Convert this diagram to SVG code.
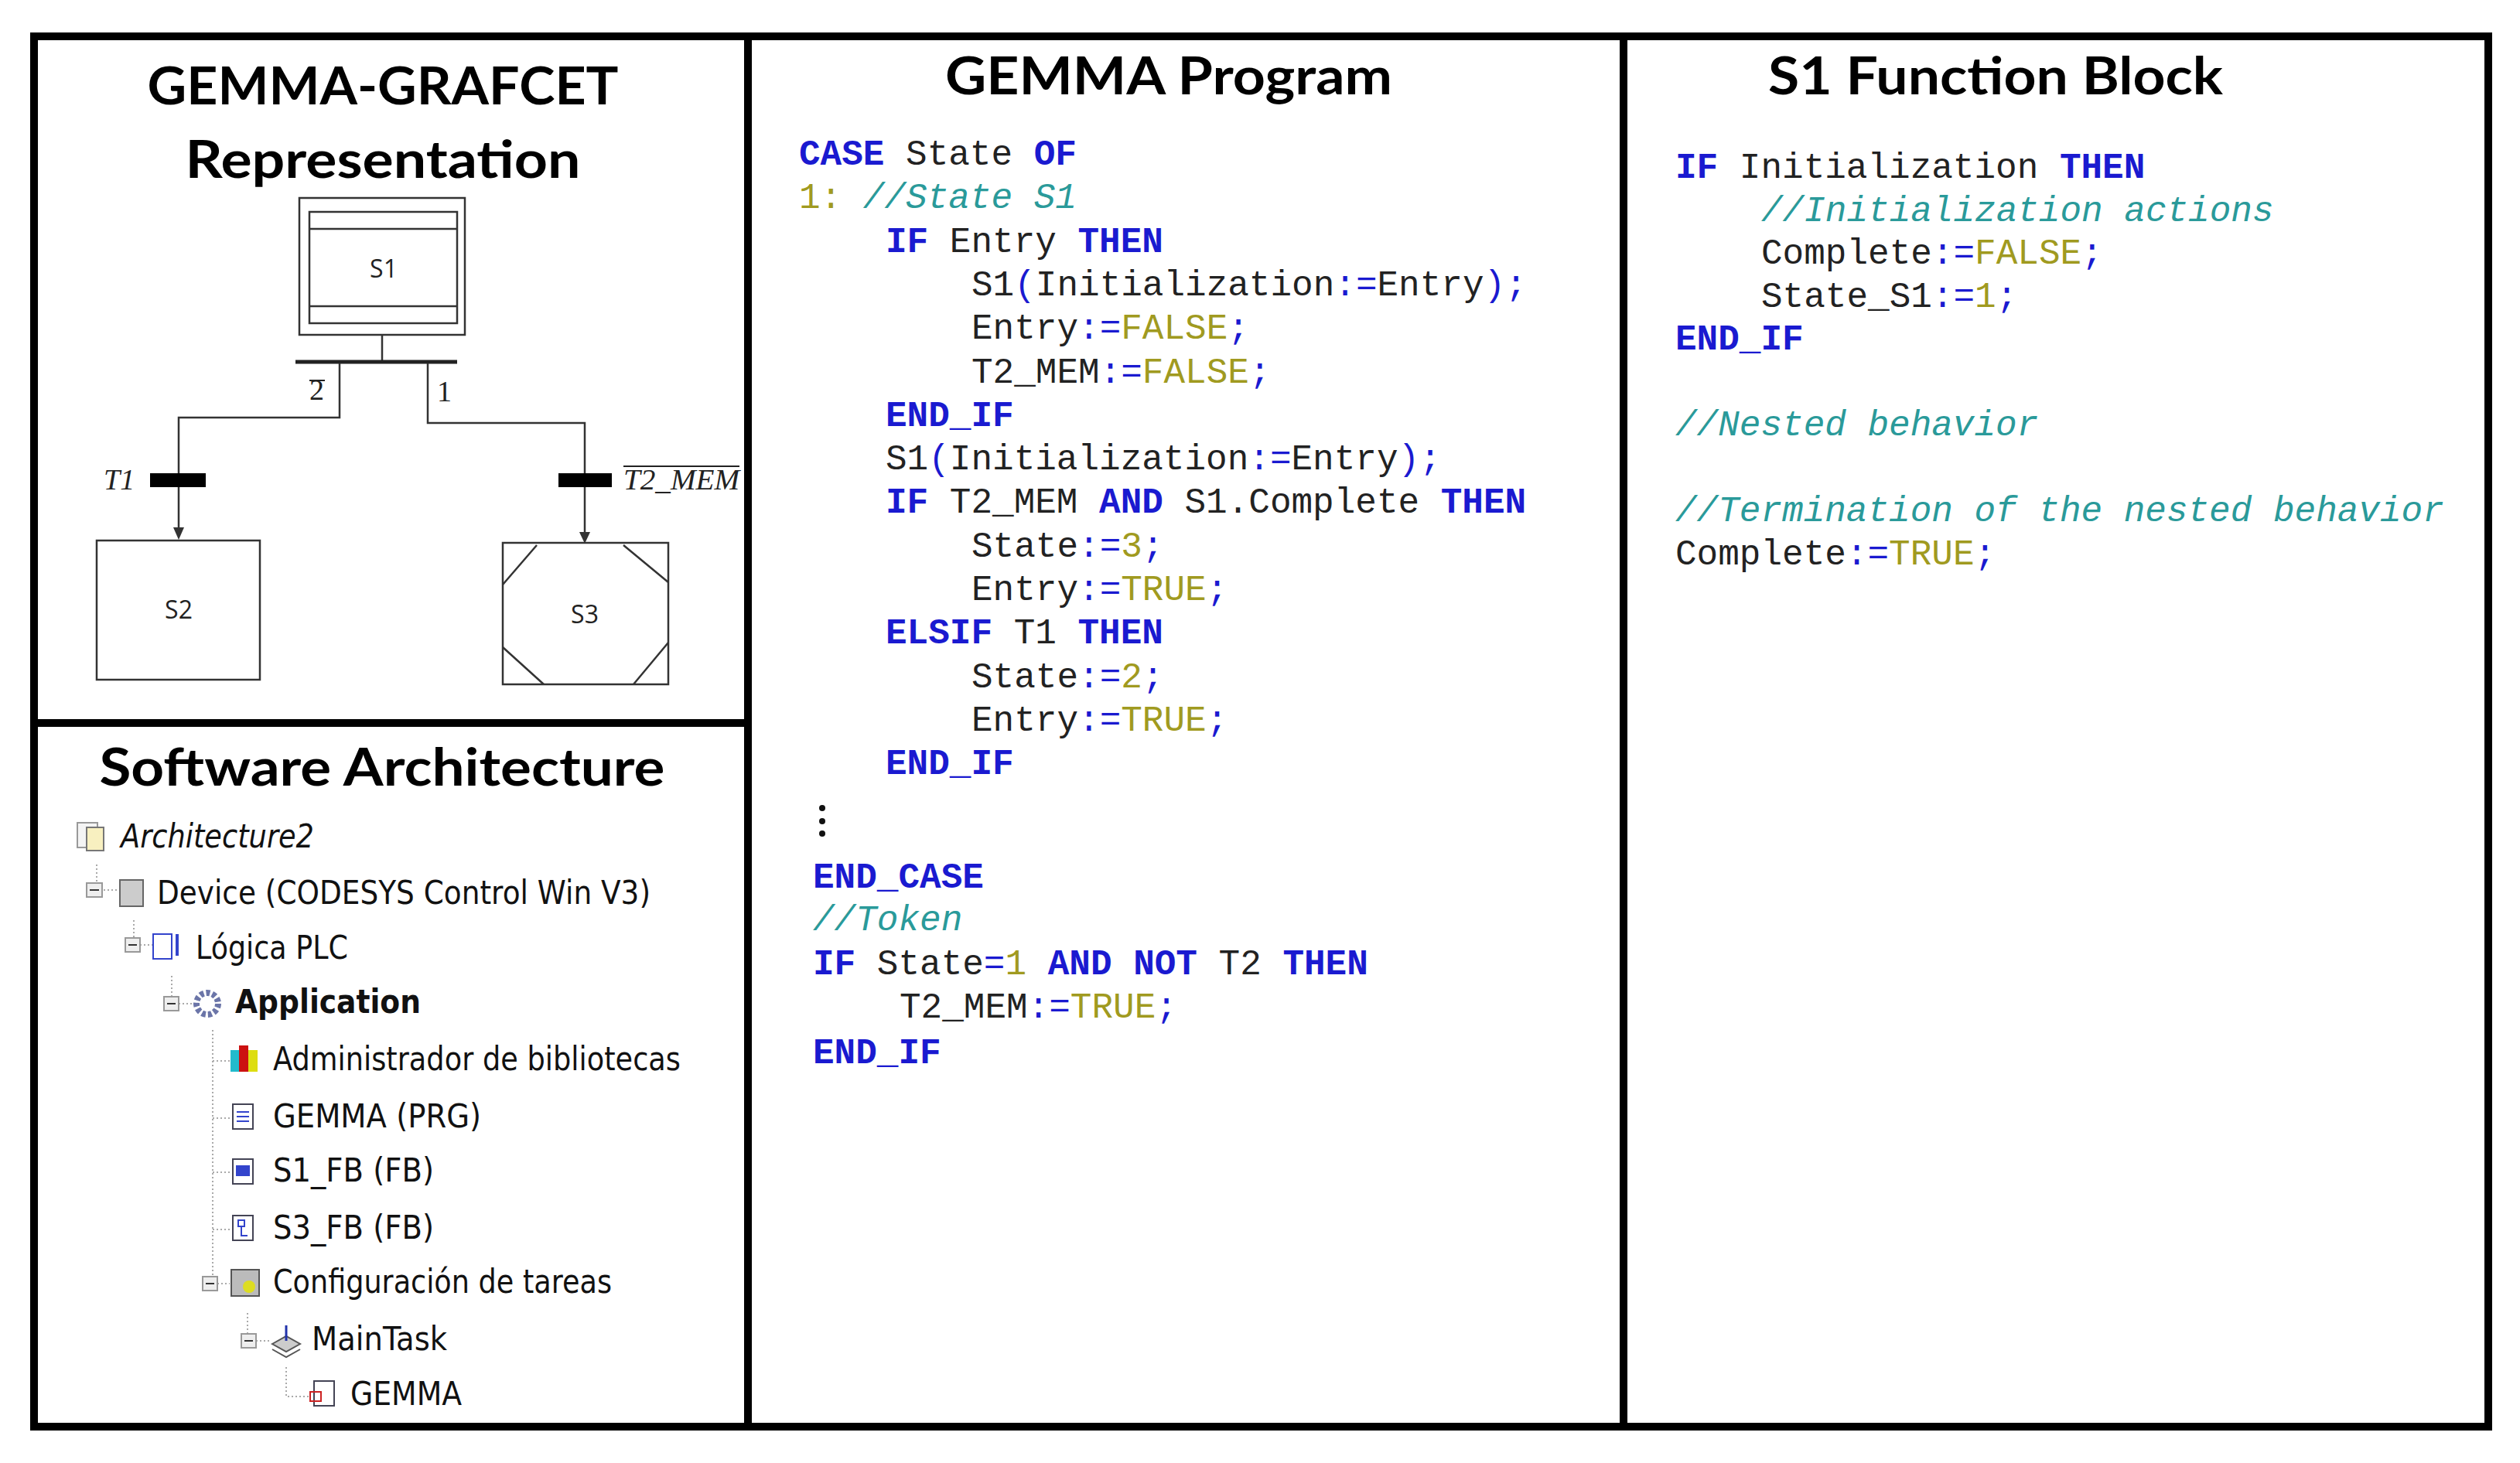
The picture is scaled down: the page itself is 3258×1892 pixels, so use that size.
<svg xmlns="http://www.w3.org/2000/svg" width="3258" height="1892" viewBox="0 0 3258 1892">
<style>
.frame{fill:none;stroke:#000;stroke-width:10}
.title{font-family:Lato,"Open Sans",sans-serif;font-weight:bold;font-size:66px;fill:#000;text-anchor:middle}
.g{fill:none;stroke:#333;stroke-width:2.5}
.gl{font-family:"Open Sans","Liberation Sans",sans-serif;font-size:32px;fill:#222;text-anchor:middle}
.math{font-family:"Liberation Serif",serif;font-size:38px;fill:#222}
.code{font-family:"Liberation Mono",monospace;font-size:46px;fill:#222}
.k{fill:#1a1ad0;font-weight:bold}
.o{fill:#1a1ad0}
.l{fill:#a09a20}
.c{fill:#2a9a9a;font-style:italic}
.tree{font-family:"DejaVu Sans","Liberation Sans",sans-serif;font-size:43px;fill:#111}
.dot{fill:none;stroke:#aaa;stroke-width:2;stroke-dasharray:2 3}
.minus{fill:#eee;stroke:#999;stroke-width:2}
.ah{fill:#333}
</style>
<rect width="3258" height="1892" fill="#fff"/>

<g id="frames">
<rect class="frame" x="44" y="47" width="3173" height="1798"/>
<line class="frame" x1="967" y1="47" x2="967" y2="1845"/>
<line class="frame" x1="2099" y1="47" x2="2099" y2="1845"/>
<line class="frame" x1="44" y1="935" x2="967" y2="935"/>
</g>

<g id="titles">
<text class="title" x="495" y="135" textLength="609" lengthAdjust="spacingAndGlyphs">GEMMA-GRAFCET</text>
<text class="title" x="495" y="230" textLength="511" lengthAdjust="spacingAndGlyphs">Representation</text>
<text class="title" x="1511" y="122" textLength="578" lengthAdjust="spacingAndGlyphs">GEMMA Program</text>
<text class="title" x="2580" y="122" textLength="588" lengthAdjust="spacingAndGlyphs">S1 Function Block</text>
<text class="title" x="494" y="1016" textLength="731" lengthAdjust="spacingAndGlyphs">Software Architecture</text>
</g>

<g id="node-S1">
<rect class="g" x="387" y="256" width="214" height="177"/>
<rect class="g" x="400" y="274" width="191" height="144"/>
<line class="g" x1="400" y1="296" x2="591" y2="296"/>
<line class="g" x1="400" y1="396" x2="591" y2="396"/>
<text class="gl" x="496" y="359">S1</text>
</g>
<g id="node-S2">
<rect class="g" x="125" y="699" width="211" height="180"/>
<text class="gl" x="231" y="800">S2</text>
</g>
<g id="node-S3">
<rect class="g" x="650" y="702" width="214" height="183"/>
<path class="g" d="M650,756 L694,705 M806,705 L864,753 M650,837 L703,885 M819,885 L864,831"/>
<text class="gl" x="756" y="806">S3</text>
</g>
<g id="connectors">
<line class="g" x1="494" y1="433" x2="494" y2="468"/>
<line x1="382" y1="468" x2="591" y2="468" stroke="#222" stroke-width="5"/>
<polyline class="g" points="439,470 439,540 231,540 231,684"/>
<path class="ah" d="M224,682 L238,682 L231,698 Z"/>
<polyline class="g" points="553,470 553,547 756,547 756,690"/>
<path class="ah" d="M749,688 L763,688 L756,703 Z"/>
<rect x="194" y="612" width="72" height="18" fill="#000"/>
<rect x="722" y="612" width="69" height="18" fill="#000"/>
<text class="math" x="400" y="517">2</text>
<line x1="400" y1="492" x2="420" y2="492" stroke="#222" stroke-width="2"/>
<text class="math" x="565" y="519">1</text>
<text class="math" x="134" y="633" font-style="italic">T1</text>
<text class="math" x="806" y="633" font-style="italic" textLength="150" lengthAdjust="spacingAndGlyphs">T2_MEM</text>
<line x1="806" y1="603" x2="956" y2="603" stroke="#222" stroke-width="2"/>
</g>

<g id="gemma-program" class="code" xml:space="preserve">
<text x="1033" y="213"><tspan class="k">CASE</tspan> State <tspan class="k">OF</tspan></text>
<text x="1033" y="269"><tspan class="l">1:</tspan> <tspan class="c">//State S1</tspan></text>
<text x="1145" y="326"><tspan class="k">IF</tspan> Entry <tspan class="k">THEN</tspan></text>
<text x="1256" y="382">S1<tspan class="o">(</tspan>Initialization<tspan class="o">:=</tspan>Entry<tspan class="o">);</tspan></text>
<text x="1256" y="438">Entry<tspan class="o">:=</tspan><tspan class="l">FALSE</tspan><tspan class="o">;</tspan></text>
<text x="1256" y="495">T2_MEM<tspan class="o">:=</tspan><tspan class="l">FALSE</tspan><tspan class="o">;</tspan></text>
<text x="1145" y="551"><tspan class="k">END_IF</tspan></text>
<text x="1145" y="607">S1<tspan class="o">(</tspan>Initialization<tspan class="o">:=</tspan>Entry<tspan class="o">);</tspan></text>
<text x="1145" y="663"><tspan class="k">IF</tspan> T2_MEM <tspan class="k">AND</tspan> S1.Complete <tspan class="k">THEN</tspan></text>
<text x="1256" y="720">State<tspan class="o">:=</tspan><tspan class="l">3</tspan><tspan class="o">;</tspan></text>
<text x="1256" y="776">Entry<tspan class="o">:=</tspan><tspan class="l">TRUE</tspan><tspan class="o">;</tspan></text>
<text x="1145" y="832"><tspan class="k">ELSIF</tspan> T1 <tspan class="k">THEN</tspan></text>
<text x="1256" y="889">State<tspan class="o">:=</tspan><tspan class="l">2</tspan><tspan class="o">;</tspan></text>
<text x="1256" y="945">Entry<tspan class="o">:=</tspan><tspan class="l">TRUE</tspan><tspan class="o">;</tspan></text>
<text x="1145" y="1001"><tspan class="k">END_IF</tspan></text>
<circle cx="1063" cy="1045" r="4" fill="#111"/>
<circle cx="1063" cy="1062" r="4" fill="#111"/>
<circle cx="1063" cy="1078" r="4" fill="#111"/>
<text x="1051" y="1148"><tspan class="k">END_CASE</tspan></text>
<text x="1051" y="1203"><tspan class="c">//Token</tspan></text>
<text x="1051" y="1260"><tspan class="k">IF</tspan> State<tspan class="o">=</tspan><tspan class="l">1</tspan> <tspan class="k">AND</tspan> <tspan class="k">NOT</tspan> T2 <tspan class="k">THEN</tspan></text>
<text x="1163" y="1316">T2_MEM<tspan class="o">:=</tspan><tspan class="l">TRUE</tspan><tspan class="o">;</tspan></text>
<text x="1051" y="1375"><tspan class="k">END_IF</tspan></text>
</g>

<g id="s1-function-block" class="code" xml:space="preserve">
<text x="2166" y="230"><tspan class="k">IF</tspan> Initialization <tspan class="k">THEN</tspan></text>
<text x="2277" y="286"><tspan class="c">//Initialization actions</tspan></text>
<text x="2277" y="341">Complete<tspan class="o">:=</tspan><tspan class="l">FALSE</tspan><tspan class="o">;</tspan></text>
<text x="2277" y="397">State_S1<tspan class="o">:=</tspan><tspan class="l">1</tspan><tspan class="o">;</tspan></text>
<text x="2166" y="452"><tspan class="k">END_IF</tspan></text>
<text x="2166" y="563"><tspan class="c">//Nested behavior</tspan></text>
<text x="2166" y="674"><tspan class="c">//Termination of the nested behavior</tspan></text>
<text x="2166" y="730">Complete<tspan class="o">:=</tspan><tspan class="l">TRUE</tspan><tspan class="o">;</tspan></text>
</g>

<g id="tree-lines">
<path class="dot" d="M125,1118 V1150 M134,1151 H153 M173,1190 V1230 M181,1222 H197 M222,1262 V1298 M231,1298 H250 M275,1332 V1660 M275,1372 H297 M275,1446 H297 M275,1516 H297 M275,1590 H297 M281,1660 H297 M320,1698 V1732 M331,1734 H350 M370,1768 V1806 H400"/>
</g>
<g id="tree-architecture2">
<rect x="100" y="1064" width="26" height="32" fill="#f4f4f4" stroke="#999" stroke-width="2"/>
<rect x="112" y="1070" width="22" height="30" fill="#f8f0c0" stroke="#777" stroke-width="2"/>
<text class="tree" x="156" y="1096" font-style="italic" textLength="250" lengthAdjust="spacingAndGlyphs">Architecture2</text>
</g>
<g id="tree-device">
<rect class="minus" x="112" y="1142" width="20" height="18"/><line x1="116" y1="1151" x2="128" y2="1151" stroke="#333" stroke-width="2"/>
<rect x="155" y="1138" width="30" height="34" fill="#ccc" stroke="#666" stroke-width="2"/>
<text class="tree" x="203" y="1169" textLength="638" lengthAdjust="spacingAndGlyphs">Device (CODESYS Control Win V3)</text>
</g>
<g id="tree-logica">
<rect class="minus" x="162" y="1213" width="19" height="18"/><line x1="166" y1="1222" x2="177" y2="1222" stroke="#333" stroke-width="2"/>
<rect x="198" y="1208" width="24" height="32" fill="#fff" stroke="#3344cc" stroke-width="2"/>
<line x1="229" y1="1208" x2="229" y2="1236" stroke="#3344cc" stroke-width="4"/>
<text class="tree" x="253" y="1240" textLength="197" lengthAdjust="spacingAndGlyphs">Lógica PLC</text>
</g>
<g id="tree-application">
<rect class="minus" x="212" y="1289" width="19" height="18"/><line x1="216" y1="1298" x2="227" y2="1298" stroke="#333" stroke-width="2"/>
<circle cx="268" cy="1298" r="14" fill="none" stroke="#6b75a8" stroke-width="8" stroke-dasharray="5 3"/>
<text class="tree" x="304" y="1310" font-weight="bold" textLength="240" lengthAdjust="spacingAndGlyphs">Application</text>
</g>
<g id="tree-admin">
<rect x="298" y="1358" width="11" height="28" fill="#2bc"/><rect x="309" y="1352" width="12" height="34" fill="#c11"/><rect x="321" y="1358" width="12" height="28" fill="#dd1"/>
<text class="tree" x="353" y="1384" textLength="527" lengthAdjust="spacingAndGlyphs">Administrador de bibliotecas</text>
</g>
<g id="tree-gemma-prg">
<rect x="301" y="1428" width="26" height="32" fill="#fff" stroke="#445" stroke-width="2"/>
<path d="M306,1438 H322 M306,1444 H322 M306,1450 H322" stroke="#3344cc" stroke-width="2"/>
<text class="tree" x="353" y="1458" textLength="269" lengthAdjust="spacingAndGlyphs">GEMMA (PRG)</text>
</g>
<g id="tree-s1fb">
<rect x="301" y="1499" width="26" height="32" fill="#fff" stroke="#445" stroke-width="2"/>
<rect x="305" y="1507" width="18" height="14" fill="#3344cc"/>
<text class="tree" x="353" y="1528" textLength="208" lengthAdjust="spacingAndGlyphs">S1_FB (FB)</text>
</g>
<g id="tree-s3fb">
<rect x="301" y="1572" width="26" height="32" fill="#fff" stroke="#445" stroke-width="2"/>
<path d="M308,1578 H316 V1586 H308 Z M312,1586 V1598 H320" fill="none" stroke="#3344cc" stroke-width="2"/>
<text class="tree" x="353" y="1602" textLength="208" lengthAdjust="spacingAndGlyphs">S3_FB (FB)</text>
</g>
<g id="tree-config">
<rect class="minus" x="262" y="1651" width="19" height="18"/><line x1="266" y1="1660" x2="277" y2="1660" stroke="#333" stroke-width="2"/>
<rect x="299" y="1642" width="36" height="34" fill="#bbb" stroke="#555" stroke-width="2"/>
<circle cx="322" cy="1664" r="8" fill="#dd2"/>
<text class="tree" x="353" y="1672" textLength="438" lengthAdjust="spacingAndGlyphs">Configuración de tareas</text>
</g>
<g id="tree-maintask">
<rect class="minus" x="312" y="1725" width="19" height="18"/><line x1="316" y1="1734" x2="327" y2="1734" stroke="#333" stroke-width="2"/>
<path d="M352,1738 L370,1728 L388,1738 L370,1748 Z" fill="#ccc" stroke="#555" stroke-width="2"/>
<path d="M352,1745 L370,1755 L388,1745" fill="none" stroke="#555" stroke-width="2"/>
<path d="M370,1714 V1734" stroke="#2233aa" stroke-width="3"/>
<text class="tree" x="403" y="1746" textLength="175" lengthAdjust="spacingAndGlyphs">MainTask</text>
</g>
<g id="tree-gemma">
<rect x="406" y="1786" width="26" height="32" fill="#fff" stroke="#445" stroke-width="2"/>
<rect x="401" y="1800" width="14" height="12" fill="none" stroke="#c22" stroke-width="2"/>
<text class="tree" x="453" y="1817" textLength="144" lengthAdjust="spacingAndGlyphs">GEMMA</text>
</g>
</svg>
